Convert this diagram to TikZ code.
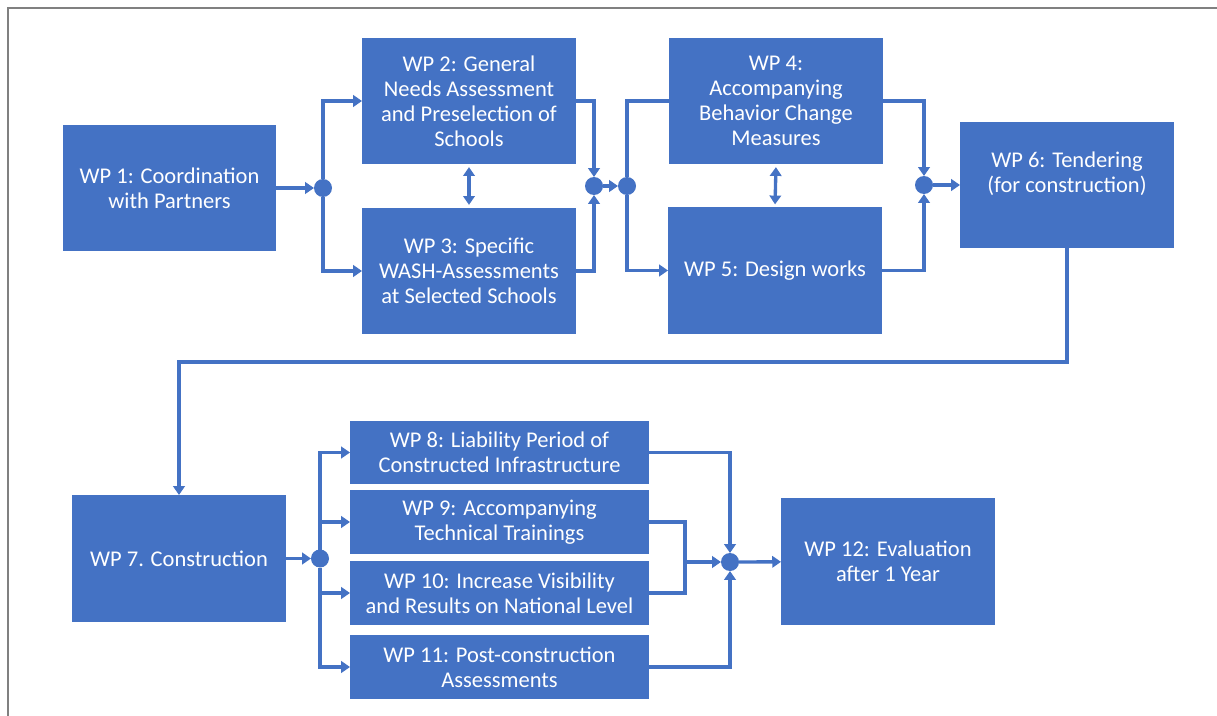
\documentclass[tikz,border=0pt]{standalone}
\usepackage{fontspec}
\setmainfont{Carlito}
\usepackage{tikz}
\usetikzlibrary{arrows.meta}
\usepackage{xcolor}
\definecolor{wpblue}{HTML}{4472C4}
\definecolor{framegray}{HTML}{808080}

\begin{document}
\begin{tikzpicture}[x=0.02cm, y=-0.02cm,
    font=\fontsize{12.8}{14.2}\selectfont,
    wpbox/.style={fill=wpblue, text=white, align=center, inner sep=0pt, outer sep=0pt,
        minimum width=4.28cm, minimum height=2.54cm},
    wpslim/.style={wpbox, minimum width=5.98cm, minimum height=1.28cm},
    junction/.style={circle, fill=wpblue, inner sep=0pt, outer sep=0pt, minimum size=0.36cm},
    link/.style={wpblue, line width=1.9pt},
    arr/.style={link, -{Triangle[length=5pt, width=6.5pt]}},
    darr/.style={link, {Triangle[length=5pt, width=6.5pt]}-{Triangle[length=5pt, width=6.5pt]}, shorten <=1.5pt, shorten >=1.5pt}]

    % ==========================================
    % FRAME & PAGE SIZE
    % ==========================================

    \useasboundingbox (0,0) rectangle (1217,716);
    \draw[framegray, line width=1.6pt] (8,716) -- (8,8) -- (1217,8);

    % ==========================================
    % WORK PACKAGES (UPPER ROW)
    % ==========================================

    \node[wpbox] (WP1) at (169.5,188) {WP 1: Coordination\\with Partners};
    \node[wpbox] (WP2) at (469,101) {WP 2: General\\Needs Assessment\\and Preselection of\\Schools};
    \node[wpbox] (WP3) at (469,271) {WP 3: Specific\\WASH-Assessments\\at Selected Schools};
    \node[wpbox] (WP4) at (776,101) {WP 4:\\Accompanying\\Behavior Change\\Measures};
    \node[wpbox] (WP5) at (775,270.5) {WP 5: Design works};
    \node[wpbox] (WP6) at (1067,185) {WP 6: Tendering\\(for construction)\\~};

    % junction points
    \node[junction] (J1) at (323,188) {};
    \node[junction] (J2) at (594,186) {};
    \node[junction] (J3) at (627,186) {};
    \node[junction] (J4) at (924,185) {};

    % ==========================================
    % WORK PACKAGES (LOWER ROW)
    % ==========================================

    \node[wpbox] (WP7) at (179,558.5) {WP 7. Construction};
    \node[wpslim] (WP8) at (499.5,452.5) {WP 8: Liability Period of\\Constructed Infrastructure};
    \node[wpslim] (WP9) at (499.5,522) {WP 9: Accompanying\\Technical Trainings};
    \node[wpslim] (WP10) at (499.5,593) {WP 10: Increase Visibility\\and Results on National Level};
    \node[wpslim] (WP11) at (499.5,667) {WP 11: Post-construction\\Assessments};
    \node[wpbox] (WP12) at (888,561.5) {WP 12: Evaluation\\after 1 Year};

    % junction points
    \node[junction] (J5) at (320,558.5) {};
    \node[junction] (J6) at (730,562) {};

    % Helper points for the bends
    \coordinate (Turn) at (179,362);
    \coordinate (Merge_9_10) at (685,562);

    % ==========================================
    % CONNECTORS
    % ==========================================

    % WP 1 splits into WP 2 and WP 3
    \draw[arr] (WP1) -- (J1);
    \draw[arr] (J1) |- (WP2.west);
    \draw[arr] (J1) |- (WP3.west);
    \draw[darr] (WP2.south) -- (WP3.north);

    % WP 2 and WP 3 join, then split into WP 4 and WP 5
    \draw[arr] (WP2.east) -| (J2);
    \draw[arr] (WP3.east) -| (J2);
    \draw[arr] (J2) -- (J3);
    \draw[link] (J3) |- (WP4.west);
    \draw[arr] (J3) |- (WP5.west);
    \draw[darr] (WP4.south) -- (WP5.north);

    % WP 4 and WP 5 join into WP 6
    \draw[arr] (WP4.east) -| (J4);
    \draw[arr] (WP5.east) -| (J4);
    \draw[arr] (J4) -- (WP6);

    % WP 6 down to WP 7
    \draw[arr] (WP6.south) |- (Turn) -- (WP7.north);

    % WP 7 splits into WP 8 to WP 11
    \draw[arr] (WP7) -- (J5);
    \draw[arr] (J5) |- (WP8.west);
    \draw[arr] (J5) |- (WP9.west);
    \draw[arr] (J5) |- (WP10.west);
    \draw[arr] (J5) |- (WP11.west);

    % WP 8 to WP 11 join into WP 12
    \draw[arr] (WP8.east) -| (J6);
    \draw[link] (WP9.east) -| (Merge_9_10);
    \draw[link] (WP10.east) -| (Merge_9_10);
    \draw[arr] (Merge_9_10) -- (J6);
    \draw[arr] (WP11.east) -| (J6);
    \draw[arr] (J6) -- (WP12);

\end{tikzpicture}
\end{document}
